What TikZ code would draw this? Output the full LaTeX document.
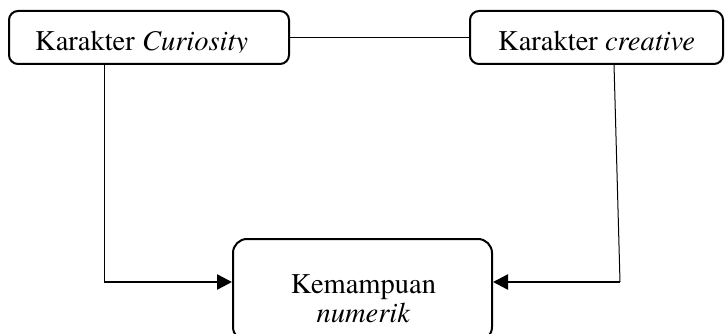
\documentclass[tikz,border=0pt]{standalone}
\usepackage{fontspec}
\setmainfont{TeX Gyre Termes}
\usetikzlibrary{arrows.meta}
\begin{document}
\begin{tikzpicture}[x=1pt,y=-1pt,
  box/.style={draw=black,line width=2pt,rounded corners=9pt,inner sep=0pt},
  lbl/.style={inner sep=0pt,font=\fontsize{28.5}{29}\selectfont,anchor=base west},
  thin/.style={draw=black,line width=1pt},
  arr/.style={draw=black,line width=2.5pt,-{Triangle[length=15pt,width=15pt]}}]
\useasboundingbox (0,0) rectangle (725,334);
\node[box,minimum width=280pt,minimum height=53pt] (b1) at (149,37.5) {};
\node[box,minimum width=253pt,minimum height=53pt] (b2) at (596.5,37.5) {};
\node[box,rounded corners=14pt,minimum width=259pt,minimum height=102pt] (b3) at (362.5,290) {};
\begin{scope}
\clip (0,0) rectangle (725,52.5);
\node[lbl] (t1) at (35,51) {Karakter \textit{Curiosity}};
\end{scope}
\node[lbl] (t2) at (498,51) {Karakter \textit{creative}};
\node[lbl,anchor=base] (t3) at (363.5,293) {Kemampuan};
\node[lbl,anchor=base] (t4) at (363.5,322) {\textit{numerik}};
\coordinate (l1) at (104,64);
\coordinate (l2) at (104,282);
\coordinate (r1) at (614,64);
\coordinate (r2) at (620,282);
\coordinate (a1) at (232,282);
\coordinate (a2) at (493,282);
\draw[thin] (b1.east) -- (b2.west);
\draw[thin] (l1) -- (l2);
\draw[arr] (l2) -- (a1);
\draw[thin] (r1) -- (r2);
\draw[arr] (r2) -- (a2);
\end{tikzpicture}
\end{document}
